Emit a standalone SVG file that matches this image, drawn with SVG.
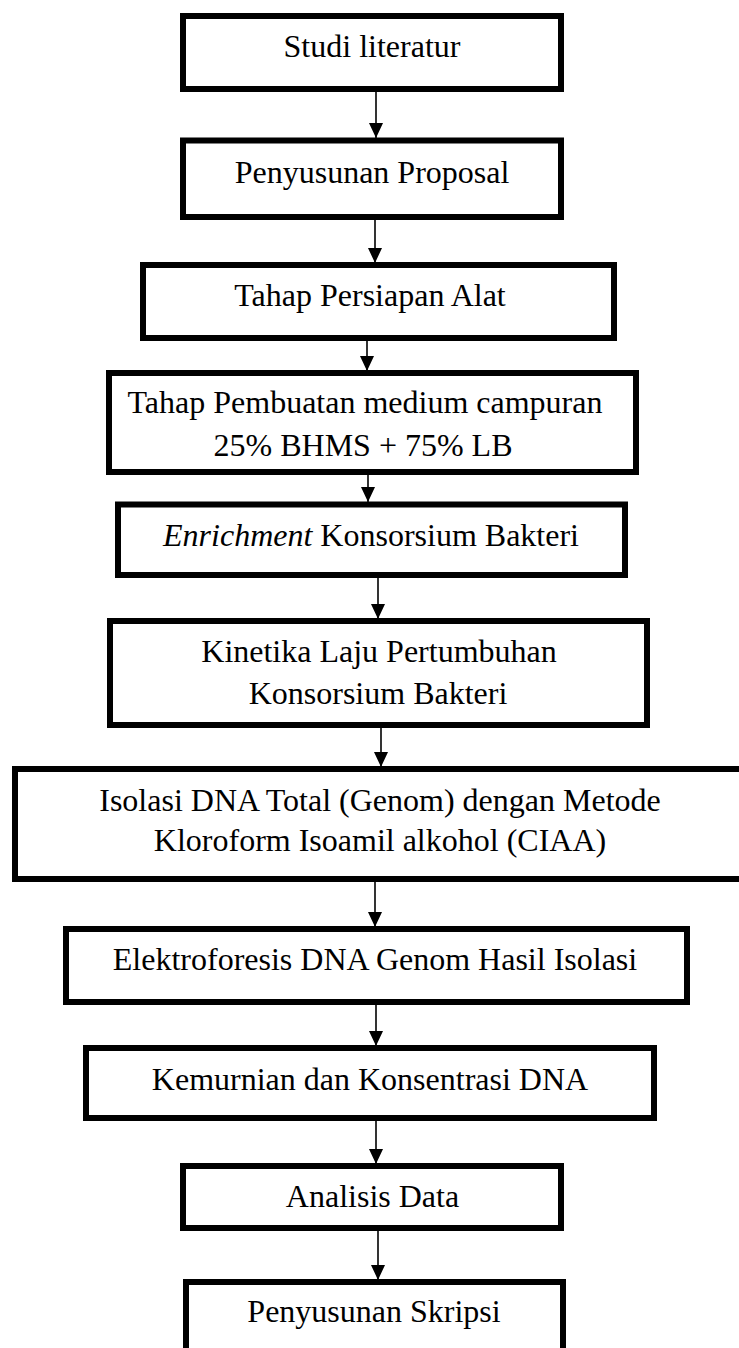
<svg xmlns="http://www.w3.org/2000/svg" width="739" height="1348" viewBox="0 0 739 1348">
<style>
.box{fill:#fff;stroke:#000;stroke-width:6}
.t{font-family:"Liberation Serif","Times New Roman",serif;font-size:32px;fill:#000;text-anchor:middle}
.c{stroke:#000;stroke-width:1.6;fill:none}
.h{fill:#000;stroke:none}
</style>
<defs>
<marker id="ah" markerUnits="userSpaceOnUse" markerWidth="16" markerHeight="14" refX="15" refY="7" orient="auto">
<path d="M0,0 L15,7 L0,14 Z" fill="#000"/>
</marker>
</defs>
<rect width="739" height="1348" fill="#fff"/>
<g id="connectors">
<line class="c" x1="376" y1="89" x2="376" y2="138" marker-end="url(#ah)"/>
<line class="c" x1="375" y1="217" x2="375" y2="263" marker-end="url(#ah)"/>
<line class="c" x1="367" y1="333" x2="367" y2="371" marker-end="url(#ah)"/>
<line class="c" x1="368" y1="475" x2="368" y2="502" marker-end="url(#ah)"/>
<line class="c" x1="378" y1="578" x2="378" y2="619" marker-end="url(#ah)"/>
<line class="c" x1="381" y1="728" x2="381" y2="767" marker-end="url(#ah)"/>
<line class="c" x1="375" y1="882" x2="375" y2="927" marker-end="url(#ah)"/>
<line class="c" x1="376" y1="998" x2="376" y2="1046" marker-end="url(#ah)"/>
<line class="c" x1="376" y1="1120" x2="376" y2="1164" marker-end="url(#ah)"/>
<line class="c" x1="378" y1="1223" x2="378" y2="1280" marker-end="url(#ah)"/>
</g>
<g id="n1"><rect class="box" x="183" y="16" width="378" height="73"/><text class="t" x="372" y="57">Studi literatur</text></g>
<g id="n2"><rect class="box" x="183" y="140.5" width="378" height="76.5"/><text class="t" x="372" y="183">Penyusunan Proposal</text></g>
<g id="n3"><rect class="box" x="143" y="265" width="471" height="73"/><text class="t" x="370" y="306">Tahap Persiapan Alat</text></g>
<g id="n4"><rect class="box" x="109" y="373" width="527" height="99"/><text class="t" x="365" y="413">Tahap Pembuatan medium campuran</text><text class="t" x="363" y="456">25% BHMS + 75% LB</text></g>
<g id="n5"><rect class="box" x="118" y="504.5" width="507" height="70.5"/><text class="t" x="371" y="546"><tspan font-style="italic">Enrichment</tspan> Konsorsium Bakteri</text></g>
<g id="n6"><rect class="box" x="110" y="621" width="537" height="104"/><text class="t" x="379" y="662">Kinetika Laju Pertumbuhan</text><text class="t" x="378" y="704">Konsorsium Bakteri</text></g>
<g id="n7"><rect class="box" x="15" y="769" width="740" height="110"/><text class="t" x="380" y="811">Isolasi DNA Total (Genom) dengan Metode</text><text class="t" x="380" y="851">Kloroform Isoamil alkohol (CIAA)</text></g>
<g id="n8"><rect class="box" x="66" y="929" width="621" height="73"/><text class="t" x="375" y="970">Elektroforesis DNA Genom Hasil Isolasi</text></g>
<g id="n9"><rect class="box" x="86" y="1048" width="568" height="70"/><text class="t" x="370" y="1090">Kemurnian dan Konsentrasi DNA</text></g>
<g id="n10"><rect class="box" x="183" y="1166" width="378" height="62"/><text class="t" x="372.5" y="1207">Analisis Data</text></g>
<g id="n11"><rect class="box" x="186" y="1282" width="377" height="80"/><text class="t" x="374" y="1322">Penyusunan Skripsi</text></g>
</svg>
